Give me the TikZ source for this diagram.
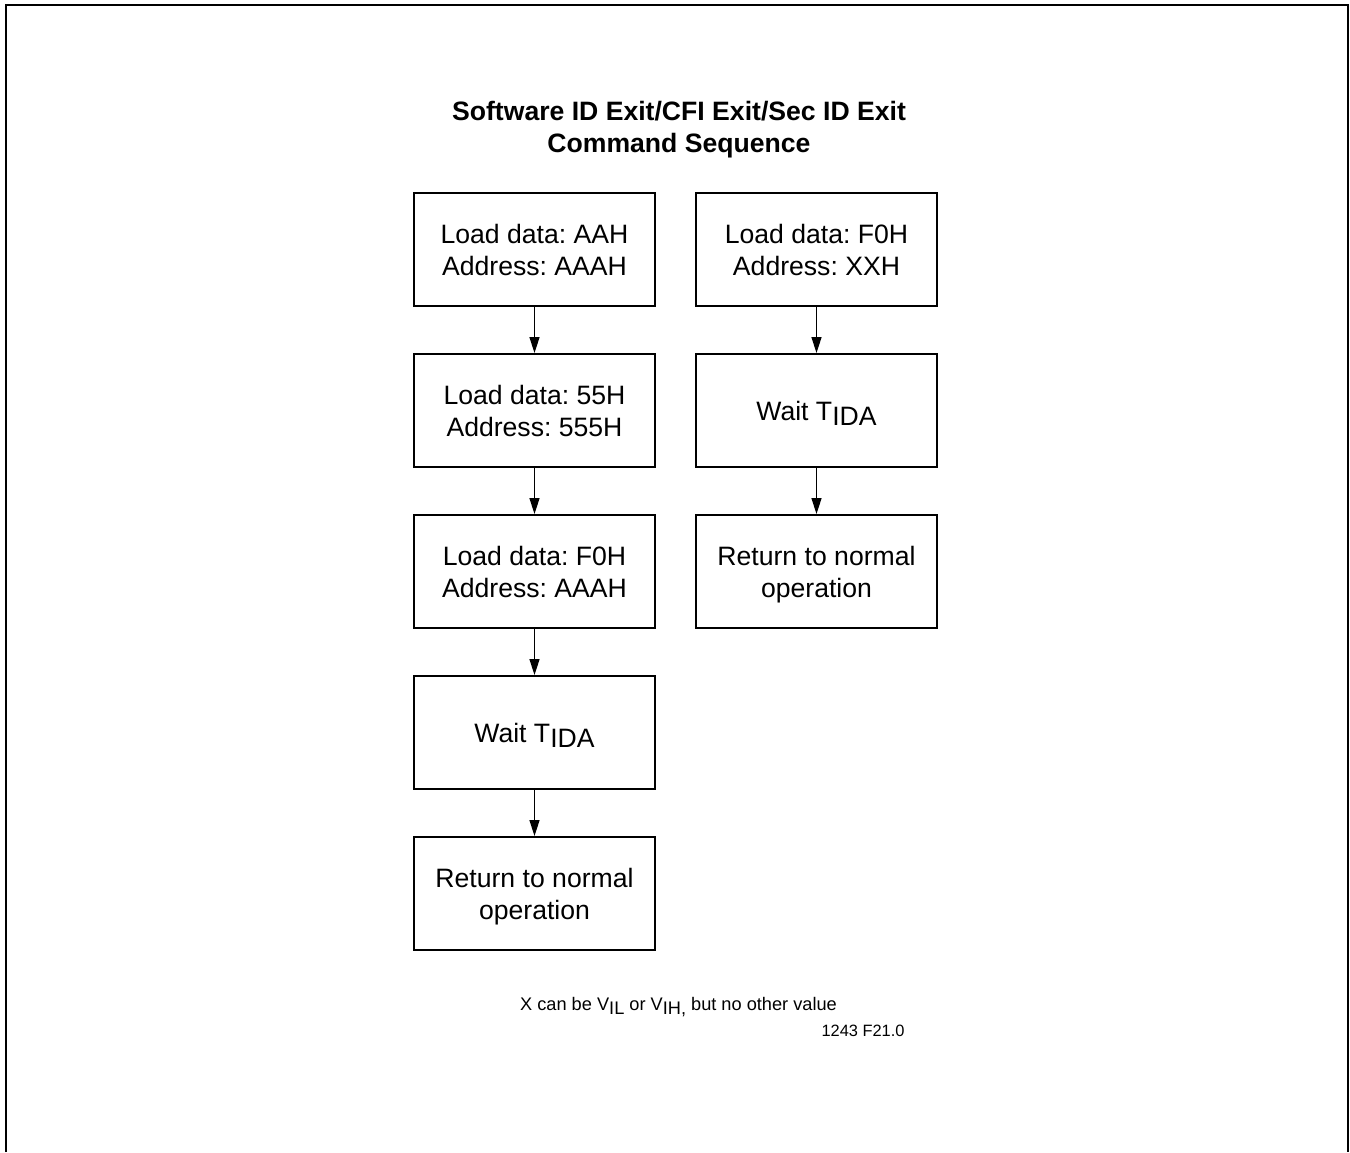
\documentclass[tikz,border=0pt]{standalone}
\usepackage{fontspec}
\setmainfont{Liberation Sans}
\usetikzlibrary{arrows.meta, positioning}

\newcommand{\lowsub}[1]{\raisebox{-2.8pt}{#1}}
\newcommand{\lownote}[1]{\raisebox{-1.7pt}{#1}}
\frenchspacing

\begin{document}
\begin{tikzpicture}[
	x=0.5pt, y=-0.5pt,
	font=\fontsize{13.3}{16}\selectfont,
	box/.style={
		draw,
		line width=1pt,
		align=center,
		minimum width=120.5pt,
		minimum height=56.5pt,
		text depth=0pt,
		inner sep=0pt
	},
	arr/.style={-{Triangle[length=8pt, width=5pt]}, line width=0.75pt},
	note/.style={font=\fontsize{9.1}{11}\selectfont},
	node distance=23pt
	]
	
	\useasboundingbox (0,0) rectangle (1350,1152);
	\draw[line width=1pt] (6,1152) -- (6,5) -- (1348,5) -- (1348,1152);
	
	\node[font=\bfseries\fontsize{13.3}{16}\selectfont, align=center] (title) at (679,130)
		{Software ID Exit/CFI Exit/Sec ID Exit\\Command Sequence};
	
	\node[box] (a) at (534.5,249.5) {Load data: AAH\\Address: AAAH};
	\node[box, below=of a] (b) {Load data: 55H\\Address: 555H};
	\node[box, below=of b] (c) {Load data: F0H\\Address: AAAH};
	\node[box, below=of c] (d) {Wait T\lowsub{IDA}};
	\node[box, below=of d] (e) {Return to normal\\operation};
	
	\node[box] (f) at (816.5,249.5) {Load data: F0H\\Address: XXH};
	\node[box, below=of f] (g) {Wait T\lowsub{IDA}};
	\node[box, below=of g] (h) {Return to normal\\operation};
	
	\draw[arr] (a) -- (b);
	\draw[arr] (b) -- (c);
	\draw[arr] (c) -- (d);
	\draw[arr] (d) -- (e);
	\draw[arr] (f) -- (g);
	\draw[arr] (g) -- (h);
	
	\node[note] (xnote) at (678.5,1007) {X can be V\lownote{IL} or V\lownote{IH,} but no other value};
	\node[font=\fontsize{8.2}{10}\selectfont] (fig) at (863,1031) {1243 F21.0};
	
\end{tikzpicture}
\end{document}
